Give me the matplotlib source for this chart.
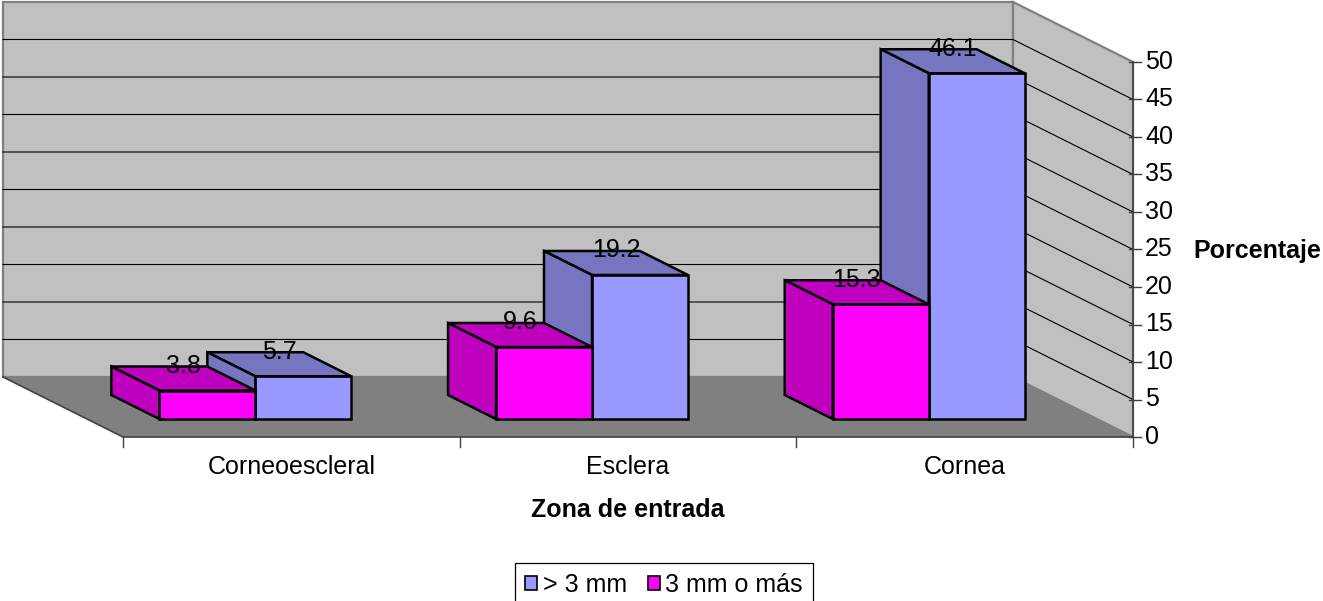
import matplotlib
matplotlib.use("Agg")
import matplotlib.pyplot as plt
from matplotlib.patches import Polygon, Patch

plt.rcParams["font.family"] = ["Liberation Sans", "DejaVu Sans"]

# ---- data -------------------------------------------------------------
categories = ["Corneoescleral", "Esclera", "Cornea"]
series_labels = ["> 3 mm", "3 mm o más"]
values_gt3 = [5.7, 19.2, 46.1]        # "> 3 mm"
values_3plus = [3.8, 9.6, 15.3]       # "3 mm o más"
y_ticks = [0, 5, 10, 15, 20, 25, 30, 35, 40, 45, 50]
y_max = 50

# ---- styling ----------------------------------------------------------
front_colors = {"gt3": "#9999FF", "plus": "#FF00FF"}
shade_colors = {"gt3": "#7676C0", "plus": "#BF00BF"}
wall_color = "#C0C0C0"
floor_color = "#808080"
edge_gray = "#808080"
FS = 18

# oblique projection: moving one unit of depth shifts left and up
DEPTH_X = -120 / 336.67   # in category units
DEPTH_V = 60 / 7.5        # in value units
BAR_W = 0.285
T_FRONT, T_BACK = 0.3, 0.7


def P(x, v, t):
    return (x + t * DEPTH_X, v + t * DEPTH_V)


fig = plt.figure(figsize=(13.23, 6.01), dpi=100)
ax = fig.add_axes([0, 0, 1, 1])
ax.set_xlim(-123 / 336.67, (1323 - 123) / 336.67)
ax.set_ylim((437 - 601) / 7.5, 437 / 7.5)
ax.axis("off")

n = len(categories)

# floor and walls
ax.add_patch(Polygon([P(0, 0, 0), P(n, 0, 0), P(n, 0, 1), P(0, 0, 1)],
                     closed=True, facecolor=floor_color, edgecolor="none", zorder=1))
ax.add_patch(Polygon([P(0, 0, 1), P(n, 0, 1), P(n, y_max, 1), P(0, y_max, 1)],
                     closed=True, facecolor=wall_color, edgecolor=edge_gray, lw=1.6, zorder=1))
ax.add_patch(Polygon([P(n, 0, 0), P(n, 0, 1), P(n, y_max, 1), P(n, y_max, 0)],
                     closed=True, facecolor=wall_color, edgecolor=edge_gray, lw=1.6, zorder=1))

# gridlines on back and side walls
for v in y_ticks[1:-1]:
    xs, ys = zip(P(0, v, 1), P(n, v, 1), P(n, v, 0))
    ax.plot(xs, ys, color="black", lw=0.8, zorder=2)

# floor edges
xs, ys = zip(P(0, 0, 1), P(0, 0, 0), P(n, 0, 0))
ax.plot(xs, ys, color="#404040", lw=1.2, zorder=2)

# value axis
xs, ys = zip(P(n, 0, 0), P(n, y_max, 0))
ax.plot(xs, ys, color="#404040", lw=1.2, zorder=2)
px = 1 / 336.67
for v in y_ticks:
    ax.plot([n - 4 * px, n + 8 * px], [v, v], color="#404040", lw=1.0, zorder=2)
    ax.text(n + 12 * px, v, str(v), ha="left", va="center", fontsize=FS, zorder=5)

# category ticks
for i in range(n + 1):
    ax.plot([i, i], [0, -10 / 7.5], color="#404040", lw=1.0, zorder=2)
for i, c in enumerate(categories):
    ax.text(i + 0.5, -30 / 7.5, c, ha="center", va="center", fontsize=FS, zorder=5)


def draw_bar(x0, x1, v, key):
    t0, t1 = T_FRONT, T_BACK
    kw = dict(closed=True, edgecolor="black", lw=1.8, joinstyle="miter", zorder=3)
    ax.add_patch(Polygon([P(x0, 0, t0), P(x1, 0, t0), P(x1, v, t0), P(x0, v, t0)],
                         facecolor=front_colors[key], **kw))
    ax.add_patch(Polygon([P(x0, v, t0), P(x1, v, t0), P(x1, v, t1), P(x0, v, t1)],
                         facecolor=shade_colors[key], **kw))
    ax.add_patch(Polygon([P(x0, 0, t0), P(x0, v, t0), P(x0, v, t1), P(x0, 0, t1)],
                         facecolor=shade_colors[key], **kw))


labels = []
for i in range(n):
    c = i + 0.5
    # right bar first so the left bar covers its hidden side
    draw_bar(c, c + BAR_W, values_gt3[i], "gt3")
    draw_bar(c - BAR_W, c, values_3plus[i], "plus")
    labels.append((c - BAR_W / 2, values_3plus[i]))
    labels.append((c + BAR_W / 2, values_gt3[i]))

for xc, v in labels:
    ax.annotate(f"{v:.1f}", P(xc, v, 0.5), xytext=(0, 4.0), textcoords="offset points",
                ha="center", va="baseline", fontsize=FS, zorder=6)

# axis titles
ax.text(1.5, (437 - 510) / 7.5, "Zona de entrada", ha="center", va="center",
        fontsize=FS, fontweight="bold")
ax.text((1193 - 123) / 336.67, 24.8, "Porcentaje", ha="left", va="center",
        fontsize=FS, fontweight="bold")

handles = [Patch(facecolor=front_colors["gt3"], edgecolor="black", lw=1.2),
           Patch(facecolor=front_colors["plus"], edgecolor="black", lw=1.2)]
leg = ax.legend(handles, series_labels, loc="upper center",
                bbox_to_anchor=(664 / 1323, 1 - 563 / 601), ncol=2, fontsize=FS,
                frameon=True, fancybox=False, edgecolor="black", framealpha=1,
                borderaxespad=0, handlelength=0.47, handleheight=0.47,
                handletextpad=0.22, columnspacing=0.85, borderpad=0.4)
leg.get_frame().set_linewidth(0.9)

fig.savefig("out.png", dpi=100)
